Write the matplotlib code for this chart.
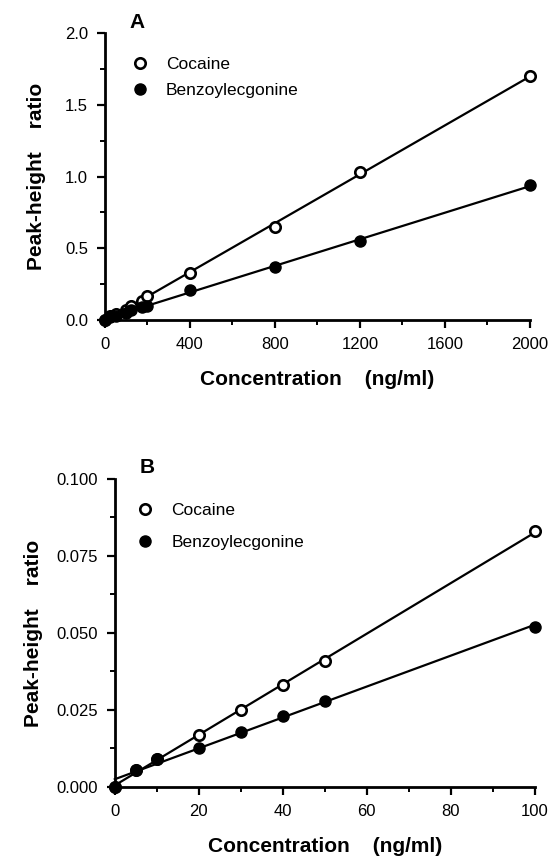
import numpy as np
import matplotlib
matplotlib.use("Agg")
import matplotlib.pyplot as plt
from matplotlib.ticker import MultipleLocator, FormatStrFormatter

plt.rcParams['font.family'] = ['Liberation Sans', 'DejaVu Sans']

# Panel A: full calibration range
conc_a = [0, 25, 50, 100, 125, 175, 200, 400, 800, 1200, 2000]
coc_a = [0.0, 0.03, 0.04, 0.07, 0.10, 0.13, 0.17, 0.33, 0.65, 1.03, 1.70]
bz_a = [0.0, 0.02, 0.03, 0.05, 0.07, 0.09, 0.10, 0.21, 0.37, 0.55, 0.94]

# Panel B: low range
conc_b = [0, 5, 10, 20, 30, 40, 50, 100]
coc_b = [0.0, 0.0055, 0.009, 0.017, 0.025, 0.033, 0.041, 0.083]
bz_b = [0.0, 0.0055, 0.009, 0.0125, 0.018, 0.023, 0.028, 0.052]

fig = plt.figure(figsize=(5.52, 8.58), dpi=100)
ax_a = fig.add_axes([0.190, 0.627, 0.770, 0.3345])
ax_b = fig.add_axes([0.208, 0.0828, 0.761, 0.359])


def panel(ax, x, y1, y2, xmax, ymax, xmaj, xmin, ymaj, ymin, yfmt, letter,
          leg_anchor, leg_space, ylpad):
    x = np.asarray(x, float)
    xs = np.array([0, xmax])
    for y in (y1, y2):
        k, b = np.polyfit(x, y, 1)
        ax.plot(xs, k * xs + b, color='black', lw=1.6, clip_on=False, zorder=2)
    ax.plot(x, y1, 'o', ms=7.5, mfc='white', mec='black', mew=1.9, clip_on=False,
            zorder=3, ls='none', label='Cocaine')
    ax.plot(x, y2, 'o', ms=8, mfc='black', mec='black', clip_on=False,
            zorder=3, ls='none', label='Benzoylecgonine')
    ax.set_xlim(0, xmax)
    ax.set_ylim(0, ymax)
    ax.xaxis.set_major_locator(MultipleLocator(xmaj))
    ax.xaxis.set_minor_locator(MultipleLocator(xmin))
    ax.yaxis.set_major_locator(MultipleLocator(ymaj))
    ax.yaxis.set_minor_locator(MultipleLocator(ymin))
    ax.yaxis.set_major_formatter(FormatStrFormatter(yfmt))
    for s in ('top', 'right'):
        ax.spines[s].set_visible(False)
    for s in ('left', 'bottom'):
        ax.spines[s].set_linewidth(2.0)
    ax.tick_params(which='major', length=6, width=1.6, labelsize=12, pad=6)
    ax.tick_params(which='minor', length=3.5, width=1.4)
    ax.set_xlabel('Concentration    (ng/ml)', fontsize=15, fontweight='bold',
                  labelpad=13)
    ax.set_ylabel('Peak-height    ratio', fontsize=15, fontweight='bold',
                  labelpad=ylpad)
    ax.text(0.058, 1.005, letter, transform=ax.transAxes, fontsize=15,
            fontweight='bold', ha='left', va='bottom')
    ax.legend(loc='upper left', bbox_to_anchor=leg_anchor, frameon=False,
              fontsize=12.5, handlelength=1.0, handletextpad=1.0,
              labelspacing=leg_space, borderaxespad=0)


panel(ax_a, conc_a, coc_a, bz_a, 2000, 2.0, 400, 200, 0.5, 0.25, '%.1f', 'A',
      (0.045, 0.94), 0.6, 14)
panel(ax_b, conc_b, coc_b, bz_b, 100, 0.100, 20, 10, 0.025, 0.0125, '%.3f', 'B',
      (0.035, 0.945), 0.95, 10)

fig.savefig('out.png', dpi=100)
